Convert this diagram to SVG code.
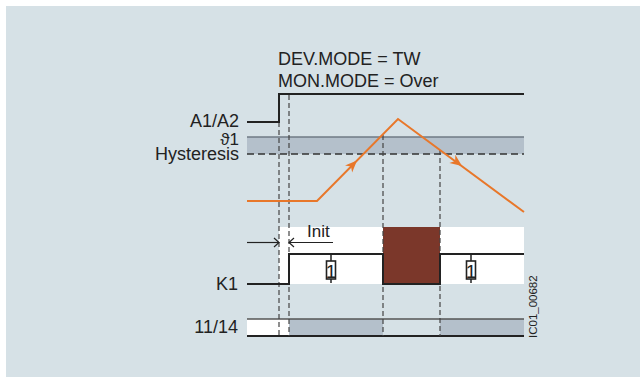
<svg xmlns="http://www.w3.org/2000/svg" width="640" height="377" viewBox="0 0 640 377">
<style>
.lbl{font-family:"Liberation Sans",Arial,sans-serif;font-size:18px;fill:#222}
.sig{fill:none;stroke:#222;stroke-width:2}
.dash{fill:none;stroke:#444;stroke-width:1.2;stroke-dasharray:5 3}
.org{fill:none;stroke:#e8772a;stroke-width:2}
.band{fill:#b4c0cb}
.thin{fill:none;stroke:#222;stroke-width:1.2}
</style>
<defs>
<path id="ah" d="M0,0 L-12,-5 L-8.5,0 L-12,5 Z" fill="#e8772a"/>
<g id="relay">
<line x1="0" y1="255" x2="0" y2="283" stroke="#222" stroke-width="1.5"/>
<rect x="-4.5" y="261" width="9" height="18" fill="#fff" stroke="#222" stroke-width="1.6"/>
<text x="0" y="277.5" text-anchor="middle" style="font-family:'Liberation Sans',Arial,sans-serif;font-size:19px;fill:#222">1</text>
</g>
</defs>
<rect x="0" y="0" width="640" height="377" fill="#fff"/>
<rect x="6" y="6" width="634" height="371" fill="#d6e1e6"/>

<g id="title">
<text class="lbl" x="278" y="65">DEV.MODE = TW</text>
<text class="lbl" x="278" y="87">MON.MODE = Over</text>
</g>

<g id="labels">
<text class="lbl" x="239" y="127" text-anchor="end">A1/A2</text>
<text class="lbl" x="239" y="145" text-anchor="end" style="font-size:17px">ϑ1</text>
<text class="lbl" x="239" y="160" text-anchor="end">Hysteresis</text>
<text class="lbl" x="238" y="290" text-anchor="end">K1</text>
<text class="lbl" x="238" y="333" text-anchor="end">11/14</text>
</g>

<g id="hysteresis-band">
<rect class="band" x="247" y="137" width="277" height="17"/>
<line x1="247" y1="137" x2="524" y2="137" stroke="#6f7a84" stroke-width="1.5"/>
<line x1="247" y1="154" x2="524" y2="154" stroke="#333" stroke-width="1.5" stroke-dasharray="7 4"/>
</g>

<g id="k1-area">
<rect x="279" y="227" width="245" height="57" fill="#fff"/>
<rect x="383" y="227" width="57" height="57" fill="#7b372a"/>
</g>

<g id="out-1114">
<rect x="247" y="319" width="42" height="17" fill="#fff"/>
<rect class="band" x="289" y="319" width="94" height="17"/>
<rect class="band" x="440" y="319" width="84" height="17"/>
<line x1="247" y1="319" x2="524" y2="319" stroke="#555" stroke-width="1.5"/>
<line x1="247" y1="336" x2="524" y2="336" stroke="#222" stroke-width="2"/>
</g>

<g id="connectors">
<line class="dash" x1="279" y1="122" x2="279" y2="336"/>
<line class="dash" x1="289" y1="95" x2="289" y2="336"/>
<line class="dash" x1="383" y1="135" x2="383" y2="336"/>
<line class="dash" x1="440" y1="150" x2="440" y2="336"/>
</g>

<g id="a1a2">
<polyline class="sig" points="247,122 279,122 279,94 524,94"/>
</g>

<g id="temperature">
<polyline class="org" points="247,201 317,201 398,119 524,212"/>
<use href="#ah" transform="translate(357,160.5) rotate(-45.4)"/>
<use href="#ah" transform="translate(462,166) rotate(36.4)"/>
</g>

<g id="k1">
<polyline class="sig" points="247,284 289,284 289,254 383,254 383,284 440,284 440,254 524,254"/>
<use href="#relay" transform="translate(331,0)"/>
<use href="#relay" transform="translate(471,0)"/>
</g>

<g id="init">
<line class="thin" x1="247" y1="242.5" x2="279" y2="242.5"/>
<polyline class="thin" points="274,238 279,242.5 274,247"/>
<line class="thin" x1="289" y1="242.5" x2="333" y2="242.5"/>
<polyline class="thin" points="294,238 289,242.5 294,247"/>
<text class="lbl" x="307" y="237" style="font-size:17px">Init</text>
</g>

<g id="code">
<text x="537" y="338" transform="rotate(-90 537 338)" style="font-family:'Liberation Sans',Arial,sans-serif;font-size:11.5px;fill:#222">IC01_00682</text>
</g>
</svg>
